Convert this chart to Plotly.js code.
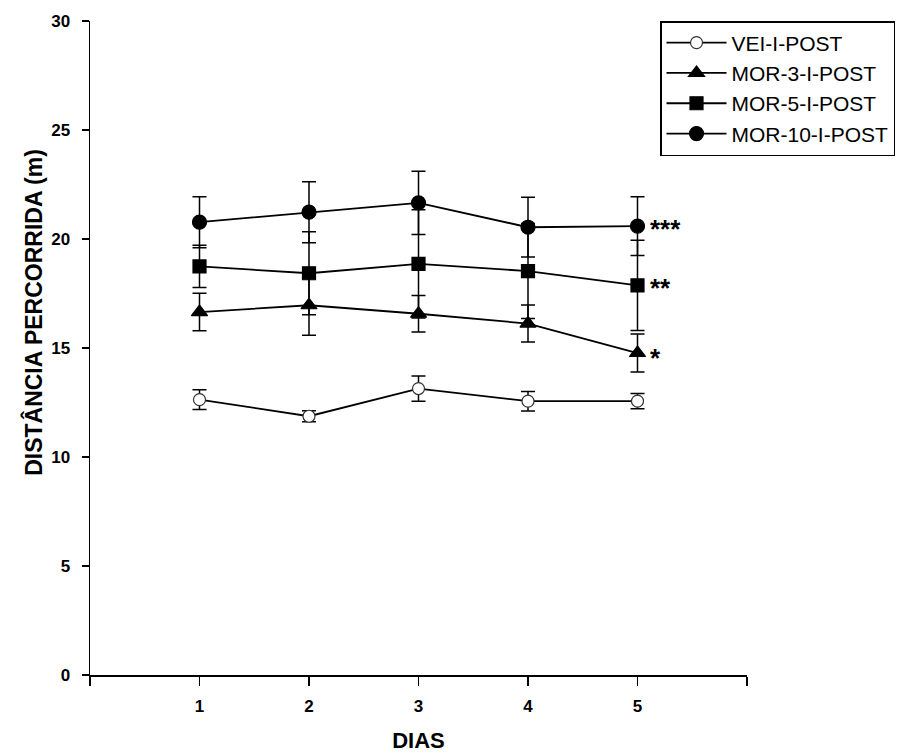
<!DOCTYPE html>
<html>
<head>
<meta charset="utf-8">
<script src="https://cdn.plot.ly/plotly-3.0.1.min.js"></script>
<style>html,body{margin:0;padding:0;background:#fff;}#chart{width:910px;height:753px;}</style>
</head>
<body>
<div id="chart"></div>
<script>
var days = [1, 2, 3, 4, 5];
var tickVals = [0, 1, 2, 3, 4, 5, 6];
var tickText = ['', '1', '2', '3', '4', '5', ''];
var yTicks = [0, 5, 10, 15, 20, 25, 30];
var xTitle = 'DIAS';
var yTitle = 'DISTÂNCIA PERCORRIDA (m)';

var seriesNames = ['VEI-I-POST', 'MOR-3-I-POST', 'MOR-5-I-POST', 'MOR-10-I-POST'];
var vei    = [12.63, 11.87, 13.14, 12.56, 12.56];
var veiErr = [0.45, 0.25, 0.58, 0.45, 0.35];
var mor3    = [16.65, 16.96, 16.57, 16.12, 14.77];
var mor3Err = [0.86, 1.38, 0.84, 0.85, 0.87];
var mor5    = [18.74, 18.43, 18.86, 18.53, 17.87];
var mor5Err = [0.97, 1.90, 2.48, 2.18, 2.07];
var mor10    = [20.77, 21.23, 21.66, 20.54, 20.59];
var mor10Err = [1.17, 1.40, 1.45, 1.37, 1.35];
var sigLabels = ['*', '**', '***'];

var FONT = 'Arial, "Liberation Sans", sans-serif';

function trace(name, y, err, symbol, size, fill, outline) {
  return {
    type: 'scatter', mode: 'lines+markers', name: name,
    x: days, y: y,
    line: {color: '#000', width: 1.8},
    marker: {symbol: symbol, size: size, color: fill, line: {color: outline, width: 1.2}},
    error_y: {type: 'data', array: err, visible: true, color: '#000', thickness: 1.5, width: 7}
  };
}

var data = [
  trace(seriesNames[0], vei, veiErr, 'circle', 12, '#fff', '#333'),
  trace(seriesNames[1], mor3, mor3Err, 'triangle-up', 14, '#000', '#000'),
  trace(seriesNames[2], mor5, mor5Err, 'square', 13, '#000', '#000'),
  trace(seriesNames[3], mor10, mor10Err, 'circle', 14, '#000', '#000')
];

var sigY = [mor3[4], mor5[4], mor10[4]];
var annotations = sigLabels.map(function (t, i) {
  return {
    x: days[4], y: sigY[i], xref: 'x', yref: 'y', text: '<b>' + t + '</b>',
    showarrow: false, xanchor: 'left', yanchor: 'middle', xshift: 10, yshift: (i === 0 ? -5 : -3),
    font: {family: FONT, size: 26, color: '#000'}
  };
});
annotations.push({
  xref: 'paper', yref: 'paper', x: -0.087, y: 0.555, xanchor: 'center', yanchor: 'middle',
  text: '<b>' + yTitle + '</b>', textangle: -90, showarrow: false,
  font: {family: FONT, size: 23, color: '#000'}
});

var layout = {
  width: 910, height: 753,
  paper_bgcolor: '#fff', plot_bgcolor: '#fff',
  margin: {l: 90, r: 163, t: 21, b: 78},
  font: {family: FONT, color: '#000'},
  showlegend: true,
  legend: {
    x: 0.8676, y: 1, xanchor: 'left', yanchor: 'top',
    bordercolor: '#000', borderwidth: 1.5, bgcolor: '#fff',
    itemwidth: 60,
    font: {size: 21, color: '#000'}
  },
  xaxis: {
    range: [0, 6], tickmode: 'array', tickvals: tickVals, ticktext: tickText,
    showgrid: false, zeroline: false, showline: true, linecolor: '#000', linewidth: 1.5,
    ticks: 'outside', ticklen: 9, tickwidth: 1.5, tickcolor: '#000',
    tickfont: {size: 17, color: '#000', weight: 'bold'}, ticklabelstandoff: 6,
    title: {text: '<b>' + xTitle + '</b>', font: {size: 22, color: '#000'}, standoff: 25}
  },
  yaxis: {
    range: [0, 30], tickmode: 'array', tickvals: yTicks,
    showgrid: false, zeroline: false, showline: true, linecolor: '#000', linewidth: 1.5,
    ticks: 'outside', ticklen: 7, tickwidth: 1.5, tickcolor: '#000',
    tickfont: {size: 17, color: '#000', weight: 'bold'}, ticklabelstandoff: 8
  },
  annotations: annotations
};

Plotly.newPlot('chart', data, layout, {displayModeBar: false, staticPlot: true});
</script>
</body>
</html>
